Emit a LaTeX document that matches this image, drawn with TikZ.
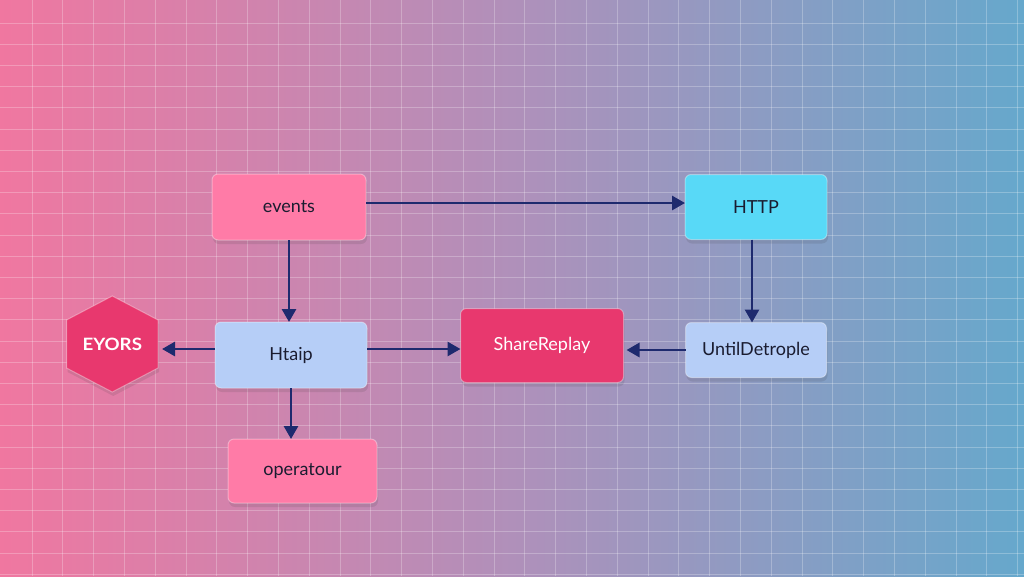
\documentclass[tikz,border=0pt]{standalone}
\usepackage{fontspec}
\setmainfont{Lato}
\usetikzlibrary{shapes.geometric, arrows.meta, positioning, shadows}

\definecolor{bgpink}{HTML}{F077A0}
\definecolor{bgmid}{HTML}{B090BA}
\definecolor{bgblue}{HTML}{66A8CC}
\definecolor{boxpink}{HTML}{FF7BA7}
\definecolor{boxcyan}{HTML}{58D9F7}
\definecolor{boxlight}{HTML}{B6CEF7}
\definecolor{boxred}{HTML}{E8386E}
\definecolor{arrownavy}{HTML}{1E2A6E}
\definecolor{textdark}{HTML}{1A1C30}

\begin{document}
\begin{tikzpicture}[
        x=1pt, y=-1pt,
    softshadow/.style={drop shadow={shadow xshift=1pt, shadow yshift=-4pt, opacity=0.12, fill=black!80}},
    block/.style={rectangle, rounded corners=6pt, text centered, inner sep=4pt, outer sep=0pt,
        draw=white, draw opacity=0.35, line width=1pt, text=textdark,
        font=\fontsize{18}{21}\selectfont, softshadow},
    hexblock/.style={regular polygon, regular polygon sides=6, shape border rotate=30, minimum size=96pt,
        inner sep=0pt, outer sep=0pt, fill=boxred, draw=white, draw opacity=0.35, line width=1pt,
        text=white, font=\fontsize{17}{20}\selectfont\bfseries, softshadow},
    gridline/.style={draw=white, draw opacity=0.25, line width=1pt},
    line/.style={draw=arrownavy, -{Triangle[length=13pt,width=14pt]}, line width=2.8pt}
    ]

    % background
    \useasboundingbox (0,0) rectangle (1024,576);
    \fill[left color=bgpink, right color=bgblue, middle color=bgmid] (0,0) rectangle (1024,576);
    \foreach \gx in {0,...,32}
        \draw[gridline] ({32+30.8*\gx},0) -- ({32+30.8*\gx},576);
    \foreach \gy in {0,...,26}
        \draw[gridline] (0,{23+21.2*\gy}) -- (1024,{23+21.2*\gy});

    % nodes
    \node[block, fill=boxpink, minimum width=154pt, minimum height=66pt] (events) at (289,207) {events};
    \node[block, fill=boxcyan, minimum width=142pt, minimum height=65pt, right=319pt of events] (http) {HTTP};
    \node[block, fill=boxlight, minimum width=152pt, minimum height=66pt, below=82pt of events, xshift=2pt] (htaip) {Htaip};
    \node[block, fill=boxpink, minimum width=149pt, minimum height=64pt, below=51pt of htaip, xshift=11.5pt] (operatour) {operatour};
    \node[block, fill=boxlight, minimum width=141pt, minimum height=55pt, below=83pt of http] (until) {UntilDetrople};
    \node[block, fill=boxred, text=white, minimum width=163pt, minimum height=74pt, left=62pt of until, yshift=4.5pt] (share) {ShareReplay};
    \node[hexblock, left=57pt of htaip, yshift=11pt, xscale=1.1, transform shape] (eyors) {EYORS};

    % lines
    \path[line] ([yshift=4pt]events.east) -- ([yshift=4pt]events.east -| http.west);
    \path[line] (events.south) -- (events.south |- htaip.north);
    \path[line] ([xshift=-4pt]http.south) -- ([xshift=-4pt]http.south |- until.north);
    \path[line, shorten >=3pt] (until.west) -- (until.west -| share.east);
    \path[line] ([yshift=6pt]htaip.east) -- ([yshift=6pt]htaip.east -| share.west);
    \path[line, shorten >=4pt] ([yshift=6pt]htaip.west) -- ([yshift=6pt]htaip.west -| eyors.east);
    \path[line] (htaip.south) -- (htaip.south |- operatour.north);

    \end{tikzpicture}
\end{document}
